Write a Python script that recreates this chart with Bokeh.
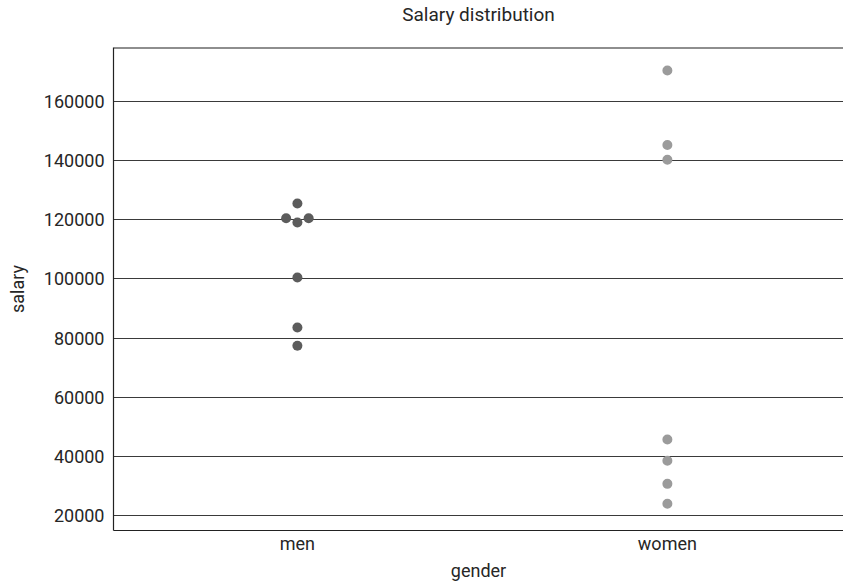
import numpy as np
from bokeh.plotting import figure
from bokeh.models import ColumnDataSource, Range1d, FixedTicker, Title, Span
from bokeh.embed import file_html
from bokeh.resources import INLINE

# ---- data ----
genders = ["men", "women"]
men_salary = [125500, 120500, 119100, 120500, 100500, 83600, 77400]
women_salary = [170500, 145300, 140300, 45700, 38500, 30700, 24000]
y_ticks = [20000, 40000, 60000, 80000, 100000, 120000, 140000, 160000]
colors = {"men": "#5c5c5c", "women": "#9b9b9b"}

FONT = "Roboto"
TXT = "#262626"

frame_w, frame_h = 730, 483
y0, y1 = 14930, 178260
x0, x1 = 0.003, 1.976

px_per_x = frame_w / (x1 - x0)
px_per_y = frame_h / (y1 - y0)


def swarm(values, d=12.0):
    """Greedy beeswarm in pixel space; returns x offsets in data units."""
    order = np.argsort(values, kind="stable")
    placed = []  # (xpix, ypix)
    offsets = np.zeros(len(values))
    for i in order:
        yp = values[i] * px_per_y
        cands = [0.0]
        for (xp, yq) in placed:
            dy = abs(yp - yq)
            if dy < d:
                dx = np.sqrt(d * d - dy * dy)
                cands += [xp - dx, xp + dx]
        cands = sorted(set(cands), key=lambda c: (abs(c), c))
        for c in cands:
            ok = all((c - xp) ** 2 + (yp - yq) ** 2 >= d * d - 1e-6 for xp, yq in placed)
            if ok:
                placed.append((c, yp))
                offsets[i] = c / px_per_x
                break
    return offsets


p = figure(width=843, height=587, output_backend="svg", toolbar_location=None,
           x_range=Range1d(x0, x1), y_range=Range1d(y0, y1),
           min_border_left=113, min_border_right=0, min_border_top=47,
           min_border_bottom=57, title=None)

for gi, (g, vals) in enumerate([("men", men_salary), ("women", women_salary)]):
    offs = swarm(vals)
    src = ColumnDataSource(dict(x=[gi + 0.5 + o for o in offs], y=vals))
    p.scatter("x", "y", source=src, size=10, fill_color=colors[g],
              line_color=None)

# spacer between frame and title, then the title itself
p.add_layout(Title(text=" ", text_font_size="1px", standoff=19), "above")
p.add_layout(Title(text="Salary distribution", align="center", text_font=FONT,
                   text_font_size="19px", text_font_style="normal",
                   text_color=TXT, standoff=0), "above")

p.xaxis.ticker = FixedTicker(ticks=[0.5, 1.5])
p.xaxis.major_label_overrides = {0.5: genders[0], 1.5: genders[1]}
p.yaxis.ticker = FixedTicker(ticks=y_ticks)
p.yaxis.formatter.use_scientific = False

for ax in (p.xaxis[0], p.yaxis[0]):
    ax.major_label_text_font = FONT
    ax.major_label_text_font_size = "18px"
    ax.major_label_text_color = TXT
    ax.axis_label_text_font = FONT
    ax.axis_label_text_font_size = "18px"
    ax.axis_label_text_font_style = "normal"
    ax.axis_label_text_color = TXT
    ax.major_tick_line_color = None
    ax.minor_tick_line_color = None
    ax.major_tick_out = 0
    ax.major_tick_in = 0
    ax.minor_tick_out = 0
    ax.minor_tick_in = 0
    ax.axis_line_color = "#222222"
    ax.axis_line_width = 1.2

p.xaxis.axis_label = "gender"
p.yaxis.axis_label = "salary"
p.xaxis.major_label_standoff = 2
p.xaxis.axis_label_standoff = 3
p.yaxis.major_label_standoff = 9
p.yaxis.axis_label_standoff = 13

p.xgrid.grid_line_color = None
p.ygrid.grid_line_color = "#3a3a3a"
p.ygrid.grid_line_width = 1.2
p.outline_line_color = None
p.add_layout(Span(location=y1, dimension="width", line_color="#1e1e1e",
                  line_width=2))
p.background_fill_color = "white"
p.border_fill_color = "white"

open("out.html", "w").write(file_html(p, INLINE))
